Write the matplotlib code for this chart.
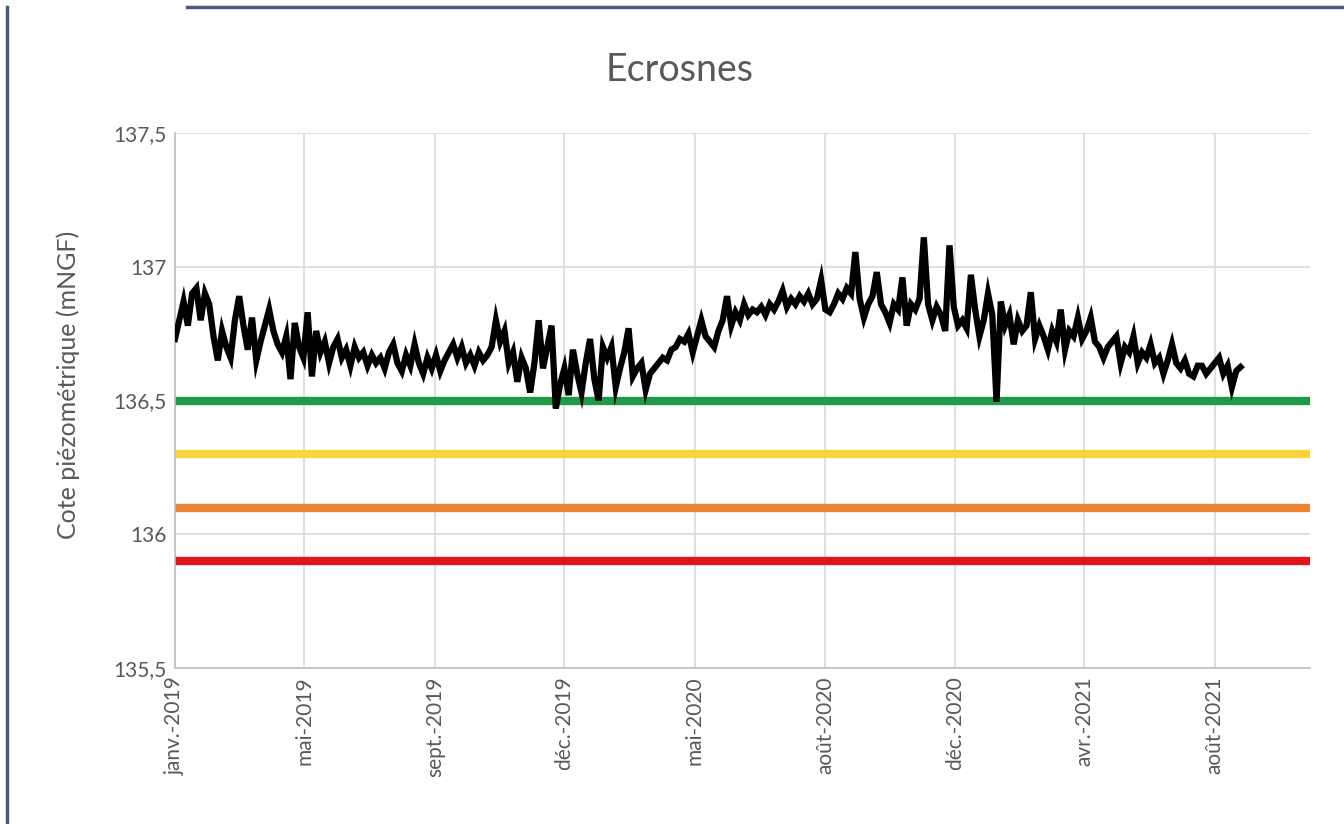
import matplotlib
matplotlib.use("Agg")
import matplotlib.pyplot as plt
import matplotlib.ticker as mticker
from matplotlib.lines import Line2D
import pandas as pd

title = "Ecrosnes"
ylabel = "Cote piézométrique (mNGF)"

# piezometric level, one reading every 4 days from 2019-01-01
start_date = "2019-01-01"
step_days = 4
levels = [
    136.73, 136.80, 136.87, 136.78, 136.90, 136.92, 136.80, 136.90, 136.86, 136.74,
    136.65, 136.76, 136.70, 136.66, 136.80, 136.89, 136.78, 136.69, 136.81, 136.65,
    136.72, 136.78, 136.84, 136.76, 136.71, 136.68, 136.74, 136.58, 136.79, 136.70,
    136.66, 136.83, 136.59, 136.76, 136.68, 136.72, 136.64, 136.70, 136.73, 136.66,
    136.69, 136.63, 136.70, 136.66, 136.68, 136.63, 136.67, 136.64, 136.66, 136.62,
    136.68, 136.71, 136.64, 136.61, 136.67, 136.63, 136.71, 136.64, 136.60, 136.66,
    136.62, 136.67, 136.61, 136.65, 136.68, 136.71, 136.66, 136.70, 136.64, 136.67,
    136.63, 136.68, 136.65, 136.67, 136.70, 136.80, 136.72, 136.76, 136.64, 136.68,
    136.57, 136.66, 136.62, 136.53, 136.64, 136.80, 136.62, 136.70, 136.78, 136.47,
    136.56, 136.62, 136.52, 136.69, 136.60, 136.53, 136.64, 136.73, 136.58, 136.50,
    136.70, 136.66, 136.70, 136.55, 136.62, 136.68, 136.77, 136.59, 136.62, 136.64,
    136.54, 136.60, 136.62, 136.64, 136.66, 136.65, 136.69, 136.70, 136.73, 136.72,
    136.75, 136.68, 136.74, 136.80, 136.74, 136.72, 136.70, 136.76, 136.80, 136.89,
    136.78, 136.83, 136.80, 136.86, 136.82, 136.84, 136.83, 136.85, 136.82, 136.86,
    136.84, 136.87, 136.91, 136.85, 136.88, 136.86, 136.89, 136.87, 136.90, 136.86,
    136.88, 136.95, 136.84, 136.83, 136.86, 136.90, 136.88, 136.92, 136.90, 137.055,
    136.88, 136.81, 136.86, 136.89, 136.98, 136.86, 136.83, 136.79, 136.86, 136.84,
    136.96, 136.78, 136.86, 136.84, 136.88, 137.11, 136.86, 136.80, 136.85, 136.82,
    136.76, 137.08, 136.85, 136.78, 136.80, 136.77, 136.97, 136.84, 136.74, 136.80,
    136.90, 136.82, 136.495, 136.87, 136.78, 136.82, 136.71, 136.80, 136.76, 136.78,
    136.905, 136.73, 136.78, 136.74, 136.69, 136.76, 136.72, 136.84, 136.69, 136.76,
    136.74, 136.81, 136.73, 136.76, 136.81, 136.72, 136.70, 136.66, 136.70, 136.72,
    136.74, 136.64, 136.70, 136.68, 136.74, 136.64, 136.68, 136.66, 136.71, 136.64,
    136.66, 136.60, 136.65, 136.71, 136.64, 136.62, 136.65, 136.60, 136.59, 136.63,
    136.63, 136.60, 136.62, 136.64, 136.66, 136.60, 136.63, 136.55, 136.61, 136.625,
]

# alert thresholds
threshold_values = [136.5, 136.3, 136.1, 135.9]
threshold_colors = ["#1f9a48", "#fbd33a", "#ea8431", "#e3141c"]

tick_dates = ["2019-01-01", "2019-05-02", "2019-09-01", "2019-12-31", "2020-05-01",
              "2020-08-31", "2020-12-30", "2021-04-30", "2021-08-30"]
tick_labels = ["janv.-2019", "mai-2019", "sept.-2019", "déc.-2019", "mai-2020",
               "août-2020", "déc.-2020", "avr.-2021", "août-2021"]
x_end = "2021-11-27"

plt.rcParams["font.family"] = ["Lato", "DejaVu Sans"]
text_color = "#595959"
grid_color = "#d9d9d9"

dates = pd.date_range(start_date, periods=len(levels), freq=f"{step_days}D")

fig = plt.figure(figsize=(13.44, 8.24), dpi=100)
ax = fig.add_axes([0.1302, 0.1893, 0.8445, 0.6493])

for val, col in zip(threshold_values, threshold_colors):
    ax.axhline(val, color=col, lw=6, zorder=2)

ax.plot(dates, levels, color="black", lw=4.5, zorder=3, solid_joinstyle="miter")

ax.set_xlim(pd.Timestamp(start_date), pd.Timestamp(x_end))
ax.set_ylim(135.5, 137.5)
ax.set_yticks([135.5, 136, 136.5, 137, 137.5])
ax.yaxis.set_major_formatter(mticker.FuncFormatter(
    lambda v, p: f"{v:g}".replace(".", ",")))
ax.set_xticks(pd.to_datetime(tick_dates))
ax.set_xticklabels(tick_labels, rotation=90, ha="center", va="top")

ax.grid(True, color=grid_color, lw=1.2, zorder=0)
ax.set_axisbelow(True)
for side in ["top", "right"]:
    ax.spines[side].set_visible(False)
for side in ["left", "bottom"]:
    ax.spines[side].set_color("#bfbfbf")
    ax.spines[side].set_linewidth(1.2)
ax.tick_params(length=0, labelsize=15, labelcolor=text_color, pad=6)

fig.text(680 / 1344, 1 - 70 / 824, title, fontsize=27, color=text_color,
         ha="center", va="center")
ax.set_ylabel(ylabel, fontsize=18, color=text_color)
ax.yaxis.set_label_coords(-0.084, 0.53)

# outer frame of the pasted chart
fig.add_artist(Line2D([187 / 1344, 1], [1 - 7 / 824] * 2, color="#4a5a82", lw=2.5))
fig.add_artist(Line2D([7 / 1344] * 2, [0, 1 - 7 / 824], color="#4a5a82", lw=2.5))

fig.savefig("out.png", dpi=100, facecolor="white")
